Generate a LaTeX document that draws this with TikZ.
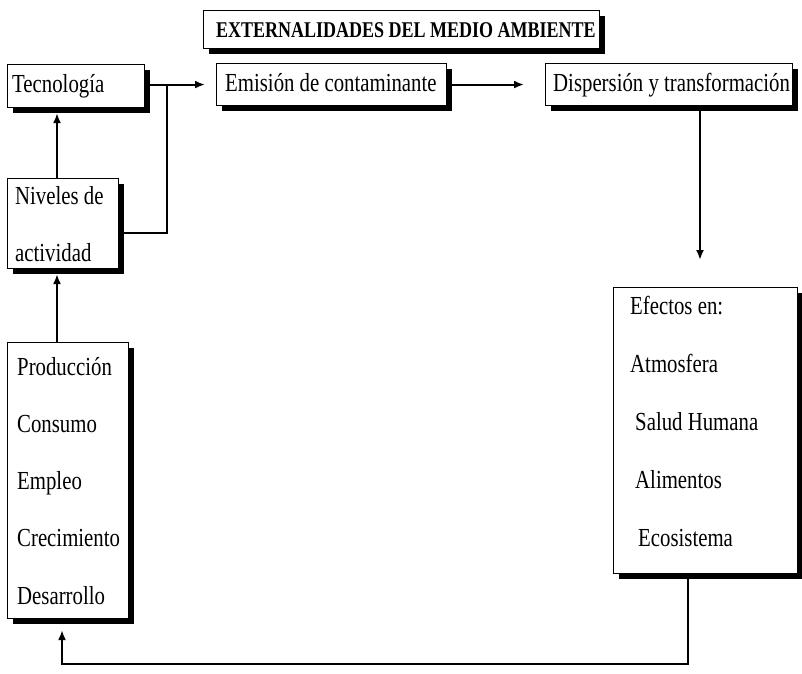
\documentclass[tikz,border=0pt]{standalone}
\usepackage{fontspec}
\setmainfont{Liberation Serif}[FakeStretch=0.8]
\usetikzlibrary{arrows.meta,shadows}
\begin{document}
\begin{tikzpicture}[x=1pt,y=-1pt,
  box/.style={draw=black, line width=1.1pt, fill=white, inner sep=0pt, anchor=north west,
    drop shadow={shadow xshift=5pt, shadow yshift=-5pt, opacity=1, fill=black}},
  lbl/.style={anchor=base west, inner sep=0pt, font=\fontsize{26}{26}\selectfont},
  ttl/.style={anchor=base, inner sep=0pt, font=\fontsize{22.5}{22.5}\selectfont\bfseries},
  conn/.style={line width=2pt},
  arr/.style={conn, -{Latex[length=10pt,width=8pt]}},
]
\path[use as bounding box] (0,0) rectangle (802,673);

% boxes
\node[box, minimum width=396pt, minimum height=38pt] (title) at (203,10) {};
\node[box, minimum width=137pt, minimum height=43pt] (tec) at (7,64) {};
\node[box, minimum width=230pt, minimum height=42pt] (emi) at (216,63) {};
\node[box, minimum width=247pt, minimum height=42pt] (dis) at (545,63) {};
\node[box, minimum width=111pt, minimum height=90pt] (niv) at (7,178) {};
\node[box, minimum width=121pt, minimum height=276pt] (pro) at (7,342) {};
\node[box, minimum width=184pt, minimum height=286pt] (efe) at (613,287) {};

% texts
\node[ttl] (ttext) at (406,37) {EXTERNALIDADES DEL MEDIO AMBIENTE};
\node[lbl] (tect) at (12,92) {Tecnología};
\node[lbl] (emit) at (225,91) {Emisión de contaminante};
\node[lbl] (dist) at (553,91) {Dispersión y transformación};
\node[lbl] (niv1) at (15,204) {Niveles de};
\node[lbl] (niv2) at (15,261) {actividad};
\node[lbl] (pro1) at (17,375) {Producción};
\node[lbl] (pro2) at (17,432) {Consumo};
\node[lbl] (pro3) at (17,489) {Empleo};
\node[lbl] (pro4) at (17,546) {Crecimiento};
\node[lbl] (pro5) at (17,604) {Desarrollo};
\node[lbl] (efe1) at (630,314) {Efectos en:};
\node[lbl] (efe2) at (630,372) {Atmosfera};
\node[lbl] (efe3) at (635,430) {Salud Humana};
\node[lbl] (efe4) at (635,488) {Alimentos};
\node[lbl] (efe5) at (638,546) {Ecosistema};

% connectors
\coordinate (j) at (167,233);
\coordinate (a1) at (57,0);
\coordinate (a2) at (700,0);
\coordinate (a3) at (688,664);
\coordinate (a4) at (62,664);

\draw[arr, shorten >=11pt] (tec.east |- emi.west) -- (emi.west);
\draw[conn] (niv.east |- j) -- (j) -- (j |- emi.west);
\draw[arr, shorten >=5pt] (niv.north -| a1) -- (tec.south -| a1);
\draw[arr, shorten >=5pt] (pro.north -| a1) -- (niv.south -| a1);
\draw[arr, shorten >=21pt] (emi.east) -- (dis.west);
\draw[arr, shorten >=27pt] (dis.south -| a2) -- (efe.north -| a2);
\draw[arr, shorten >=11pt] (efe.south -| a3) -- (a3) -- (a4) -- (pro.south -| a4);
\end{tikzpicture}
\end{document}
